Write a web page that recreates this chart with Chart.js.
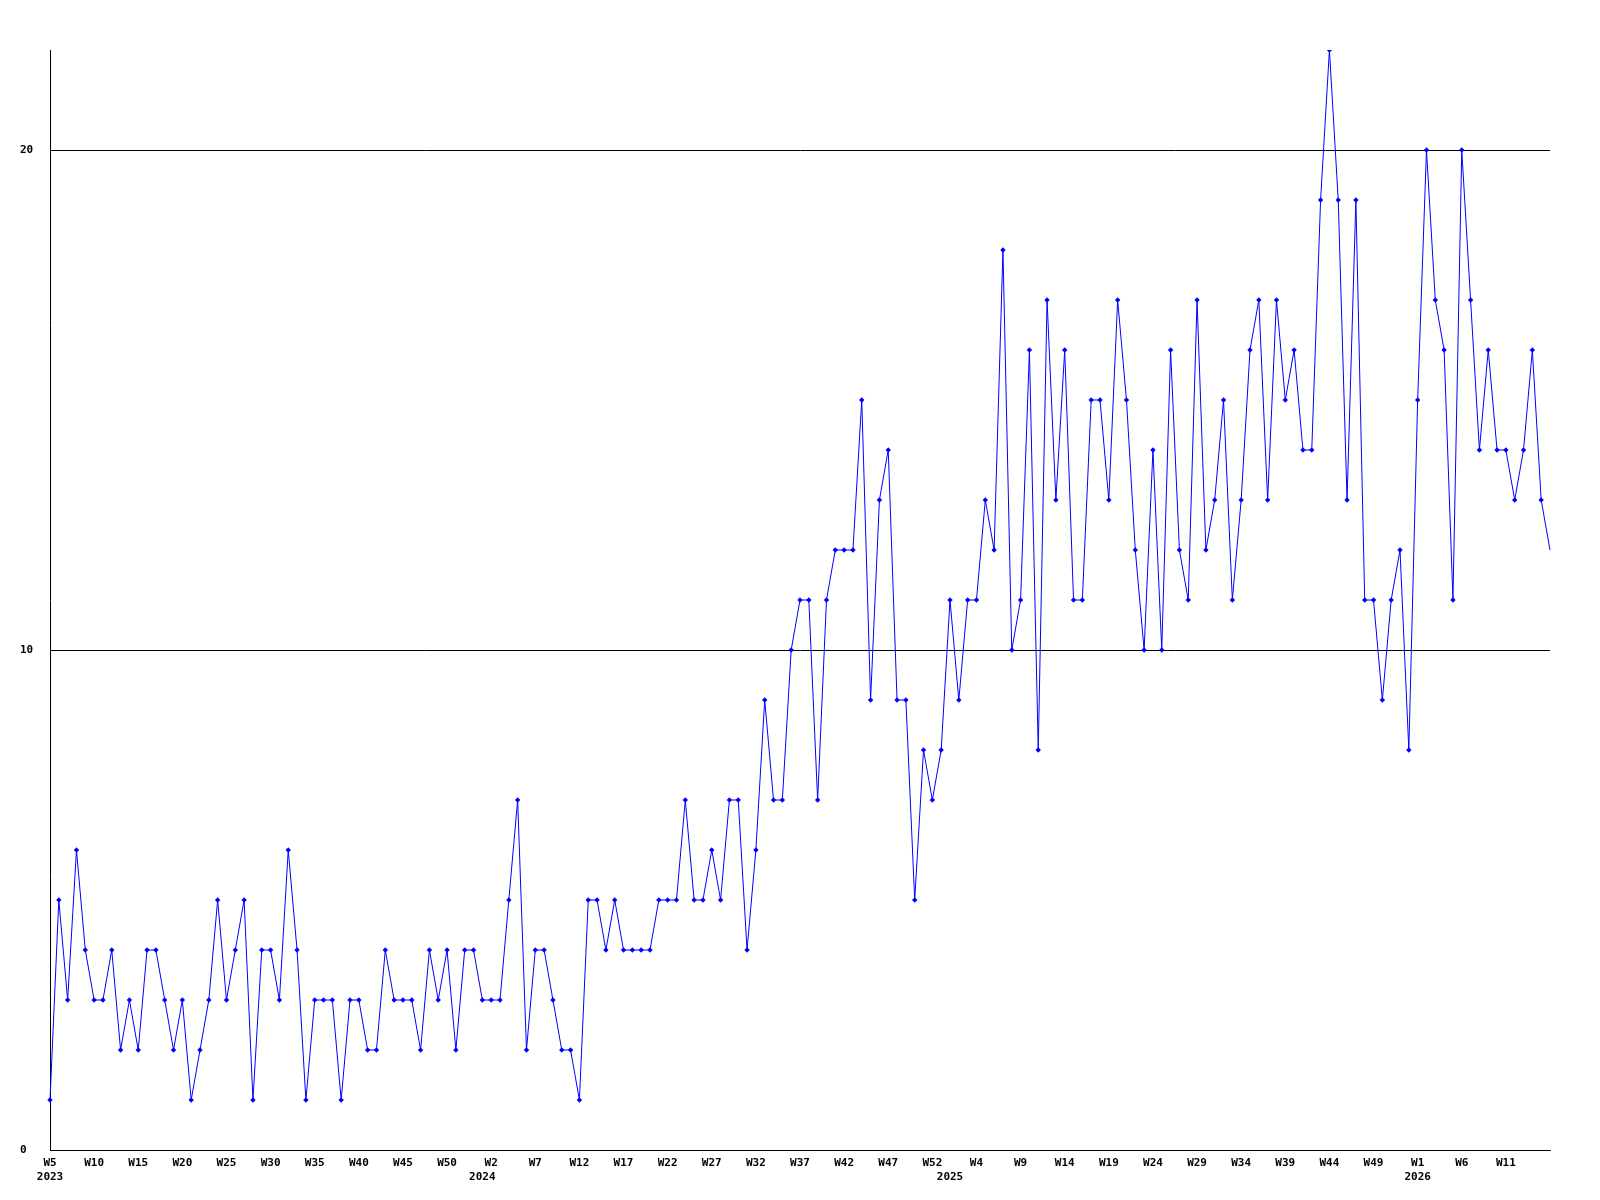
<!DOCTYPE html>
<html>
<head>
<meta charset="utf-8">
<title>Weekly count</title>
<script src="https://cdn.jsdelivr.net/npm/chart.js@4.4.1/dist/chart.umd.min.js"></script>
<style>
  html, body { margin: 0; padding: 0; background: #fff; }
  #wrap { width: 1600px; height: 1200px; position: relative; }
</style>
</head>
<body>
<div id="wrap"><canvas id="chart"></canvas></div>
<script>
// week ranges per year (first and last week number shown)
const years = [2023, 2024, 2025, 2026];
const firstWeek = [5, 1, 1, 1];
const lastWeek = [53, 53, 53, 16];

// weekly values, one array per year
const counts2023 = [1,5,3,6,4,3,3,4,2,3,2,4,4,3,2,3,1,2,3,5,3,4,5,1,4,4,3,6,4,1,3,3,3,1,3,3,2,2,4,3,3,3,2,4,3,4,2,4,4];
const counts2024 = [3,3,3,5,7,2,4,4,3,2,2,1,5,5,4,5,4,4,4,4,5,5,5,7,5,5,6,5,7,7,4,6,9,7,7,10,11,11,7,11,12,12,12,15,9,13,14,9,9,5,8,7,8];
const counts2025 = [11,9,11,11,13,12,18,10,11,16,8,17,13,16,11,11,15,15,13,17,15,12,10,14,10,16,12,11,17,12,13,15,11,13,16,17,13,17,15,16,14,14,19,22,19,13,19,11,11,9,11,12,8];
const counts2026 = [15,20,17,16,11,20,17,14,16,14,14,13,14,16,13,12];

// y axis
const yTicks = [0, 10, 20];
const yMax = 22;
// a week label every n points
const labelEvery = 5;

// build categories
let weekLabels = [];
let yearOfPoint = [];
years.forEach((y, k) => {
  for (let w = firstWeek[k]; w <= lastWeek[k]; w++) {
    weekLabels.push('W' + w);
    yearOfPoint.push(y);
  }
});
const values = [].concat(counts2023, counts2024, counts2025, counts2026);
const lastIdx = values.length - 1;

const tickFont = { family: '"DejaVu Sans Mono", "Liberation Mono", monospace', size: 11, weight: 'bold', lineHeight: 1.3 };

const ctx = document.getElementById('chart');
const myChart = new Chart(ctx, {
  type: 'line',
  data: {
    labels: weekLabels,
    datasets: [{
      label: 'count',
      data: values,
      borderColor: '#0000ff',
      backgroundColor: '#0000ff',
      borderWidth: 1,
      pointStyle: 'rectRot',
      pointRadius: (c) => c.dataIndex === lastIdx ? 0 : 2.7,
      pointBorderWidth: 0,
      tension: 0,
      fill: false
    }]
  },
  options: {
    responsive: true,
    maintainAspectRatio: false,
    animation: false,
    layout: { padding: { left: 20, right: 50, top: 50, bottom: 0 } },
    plugins: {
      legend: { display: false },
      tooltip: { enabled: false }
    },
    scales: {
      x: {
        type: 'category',
        offset: false,
        grid: { display: false, drawTicks: false },
        border: { display: true, color: '#000', width: 1 },
        afterFit: (scale) => { scale.height = 50; },
        ticks: {
          autoSkip: false,
          maxRotation: 0,
          minRotation: 0,
          padding: 6,
          color: '#000',
          font: tickFont,
          callback: function(value, index) {
            // TODO: last week is cut by the right edge, skip its label
            if (index === lastIdx) return '';
            const showWeek = index % labelEvery === 0;
            const newYear = index === 0 || yearOfPoint[index] !== yearOfPoint[index - 1];
            if (!showWeek && !newYear) return '';
            const wk = showWeek ? weekLabels[index] : '';
            return newYear ? [wk, String(yearOfPoint[index])] : wk;
          }
        }
      },
      y: {
        min: 0,
        max: yMax,
        grid: { color: '#000', lineWidth: 1, drawTicks: false },
        border: { display: true, color: '#000', width: 1 },
        afterFit: (scale) => { scale.width = 30; },
        afterBuildTicks: (scale) => { scale.ticks = yTicks.map(v => ({ value: v })); },
        ticks: {
          includeBounds: false,
          crossAlign: 'far',
          padding: 0,
          color: '#000',
          font: tickFont
        }
      }
    }
  }
});
</script>
</body>
</html>
